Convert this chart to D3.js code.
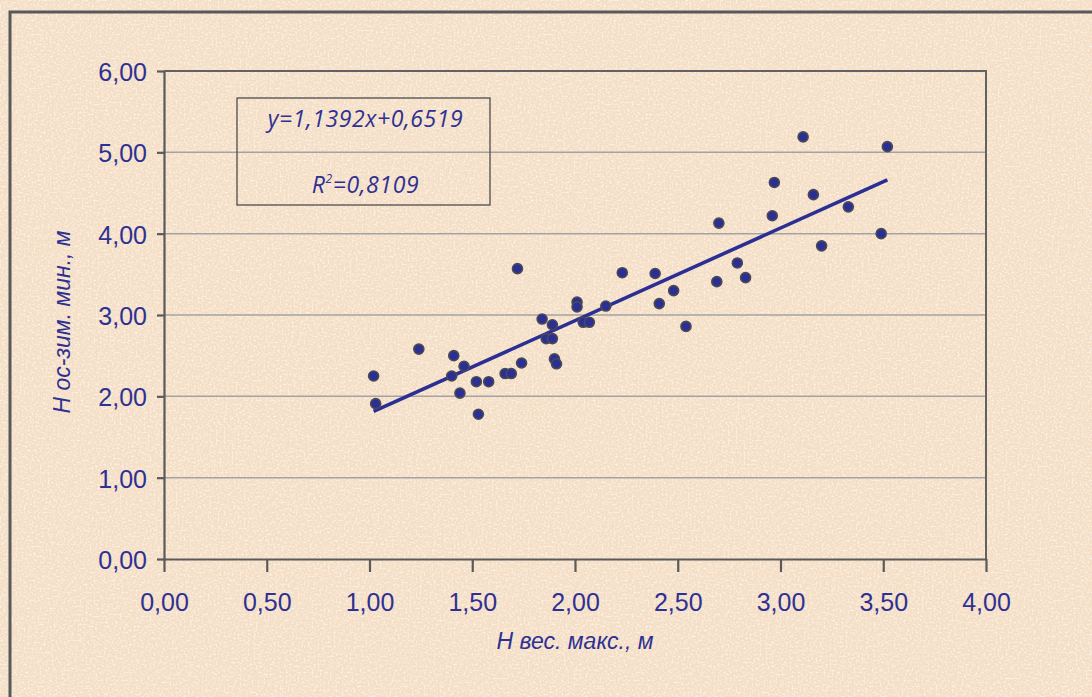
<!DOCTYPE html>
<html>
<head>
<meta charset="utf-8">
<script src="https://cdn.jsdelivr.net/npm/d3@7"></script>
<style>
  html, body { margin: 0; padding: 0; background: #f5e1ca; }
  svg { display: block; }
</style>
</head>
<body>
<svg id="chart" width="1092" height="697"></svg>
<script>
// ---- data ----
const xValues = [1.02, 1.03, 1.24, 1.41, 1.40, 1.46, 1.44, 1.53, 1.52, 1.58,
                 1.66, 1.69, 1.74, 1.72, 1.84, 1.89, 1.86, 1.89, 1.90, 1.91,
                 2.01, 2.01, 2.04, 2.07, 2.15, 2.23, 2.39, 2.41, 2.48, 2.54,
                 2.69, 2.70, 2.79, 2.83, 2.96, 2.97, 3.11, 3.16, 3.20, 3.33,
                 3.49, 3.52];
const yValues = [2.25, 1.91, 2.58, 2.50, 2.25, 2.37, 2.04, 1.78, 2.18, 2.18,
                 2.28, 2.28, 2.41, 3.57, 2.95, 2.88, 2.71, 2.71, 2.46, 2.40,
                 3.16, 3.10, 2.91, 2.91, 3.11, 3.52, 3.51, 3.14, 3.30, 2.86,
                 3.41, 4.13, 3.64, 3.46, 4.22, 4.63, 5.19, 4.48, 3.85, 4.33,
                 4.00, 5.07];
const xTicks = [0, 0.5, 1, 1.5, 2, 2.5, 3, 3.5, 4];
const yTicks = [0, 1, 2, 3, 4, 5, 6];
const trendSlope = 1.1392;
const trendIntercept = 0.6519;
const equationLines = ["y=1,1392x+0,6519", "R", "=0,8109"];
const xTitle = "H вес. макс., м";
const yTitle = "H ос-зим. мин., м";

// ---- layout ----
const W = 1092, H = 697;
const plot = { left: 164, right: 986, top: 71, bottom: 559 };
const textColor = "#2e3192";
const markColor = "#2b2f94";

const svg = d3.select("#chart");
const defs = svg.append("defs");

// paper texture: tan speckles and light speckles over a beige base
const f = defs.append("filter").attr("id", "paper").attr("x", 0).attr("y", 0)
  .attr("width", "100%").attr("height", "100%");
f.append("feTurbulence").attr("type", "fractalNoise").attr("baseFrequency", "0.6")
  .attr("numOctaves", 3).attr("seed", 11).attr("result", "noise");
f.append("feColorMatrix").attr("in", "noise").attr("type", "matrix")
  .attr("values", "0 0 0 0 0.92  0 0 0 0 0.80  0 0 0 0 0.64  2.4 0 0 0 -1.05")
  .attr("result", "tan");
f.append("feComposite").attr("in", "tan").attr("in2", "SourceGraphic").attr("operator", "in");

const f2 = defs.append("filter").attr("id", "paper2").attr("x", 0).attr("y", 0)
  .attr("width", "100%").attr("height", "100%");
f2.append("feTurbulence").attr("type", "fractalNoise").attr("baseFrequency", "0.5")
  .attr("numOctaves", 2).attr("seed", 3).attr("result", "noise");
f2.append("feColorMatrix").attr("in", "noise").attr("type", "matrix")
  .attr("values", "0 0 0 0 1  0 0 0 0 0.95  0 0 0 0 0.93  0 2.6 0 0 -1.15")
  .attr("result", "light");
f2.append("feComposite").attr("in", "light").attr("in2", "SourceGraphic").attr("operator", "in");

svg.append("rect").attr("width", W).attr("height", H).attr("fill", "#f4ddc3");
svg.append("rect").attr("width", W).attr("height", H).attr("fill", "#000")
  .attr("filter", "url(#paper)").attr("opacity", 0.6);
svg.append("rect").attr("width", W).attr("height", H).attr("fill", "#000")
  .attr("filter", "url(#paper2)").attr("opacity", 0.8);

// outer frame
svg.append("rect").attr("x", 10).attr("y", 12).attr("width", W + 20).attr("height", H + 20)
  .attr("fill", "none").attr("stroke", "#58595b").attr("stroke-width", 3);

const fmt = d3.formatLocale({ decimal: ",", thousands: " ", grouping: [3], currency: ["", ""] }).format(".2f");

const x = d3.scaleLinear().domain([0, 4]).range([plot.left, plot.right]);
const y = d3.scaleLinear().domain([0, 6]).range([plot.bottom, plot.top]);

// gridlines
svg.append("g").selectAll("line").data(yTicks.filter(d => d > 0 && d < 6)).join("line")
  .attr("x1", plot.left).attr("x2", plot.right)
  .attr("y1", d => y(d)).attr("y2", d => y(d))
  .attr("stroke", "#a3a3a3").attr("stroke-width", 1.5);

// plot border (top & right)
svg.append("path")
  .attr("d", `M${plot.left},${plot.top}H${plot.right}V${plot.bottom}`)
  .attr("fill", "none").attr("stroke", "#626262").attr("stroke-width", 2);

// axes
const xAxis = svg.append("g").attr("transform", `translate(0,${plot.bottom})`)
  .call(d3.axisBottom(x).tickValues(xTicks).tickFormat(fmt).tickSize(13).tickPadding(22).tickSizeOuter(0));
const yAxis = svg.append("g").attr("transform", `translate(${plot.left},0)`)
  .call(d3.axisLeft(y).tickValues(yTicks).tickFormat(fmt).tickSize(7).tickPadding(10).tickSizeOuter(0));

[xAxis, yAxis].forEach(g => {
  g.select(".domain").attr("stroke", "#5a5a5a").attr("stroke-width", 2.2);
  g.selectAll(".tick line").attr("stroke", "#5a5a5a").attr("stroke-width", 2.2);
  g.selectAll(".tick text").attr("fill", textColor)
    .style("font-family", "'Liberation Sans', Arial, sans-serif").style("font-size", "25px");
});
xAxis.selectAll(".tick text").attr("dy", "0.71em").attr("y", 34);
yAxis.selectAll(".tick text").attr("dy", "0.38em");

// axis titles
svg.append("text").attr("x", (plot.left + plot.right) / 2).attr("y", 649)
  .attr("text-anchor", "middle").attr("fill", textColor)
  .style("font-family", "'Liberation Sans', Arial, sans-serif").style("font-size", "23px")
  .style("font-style", "italic").text(xTitle);
svg.append("text").attr("transform", `translate(70,${(plot.top + plot.bottom) / 2 + 7}) rotate(-90)`)
  .attr("text-anchor", "middle").attr("fill", textColor)
  .style("font-family", "'Liberation Sans', Arial, sans-serif").style("font-size", "23px")
  .style("font-style", "italic").text(yTitle);

// trend line
const xmin = d3.min(xValues), xmax = d3.max(xValues);
svg.append("line")
  .attr("x1", x(xmin)).attr("y1", y(trendSlope * xmin + trendIntercept))
  .attr("x2", x(xmax)).attr("y2", y(trendSlope * xmax + trendIntercept))
  .attr("stroke", markColor).attr("stroke-width", 3.6);

// points
svg.append("g").selectAll("circle").data(xValues.map((v, i) => [v, yValues[i]])).join("circle")
  .attr("cx", d => x(d[0])).attr("cy", d => y(d[1])).attr("r", 5)
  .attr("fill", markColor).attr("stroke", "#4a4a55").attr("stroke-width", 1.6);

// equation box
const box = { x: 237, y: 98, w: 253, h: 107 };
svg.append("rect").attr("x", box.x).attr("y", box.y).attr("width", box.w).attr("height", box.h)
  .attr("fill", "none").attr("stroke", "#4d4d4d").attr("stroke-width", 1.3);
const eqStyle = s => s.attr("fill", textColor)
  .style("font-family", "'Open Sans', 'Noto Sans', sans-serif").style("font-style", "italic")
  .style("font-size", "23px");
svg.append("text").attr("x", box.x + box.w / 2 + 2).attr("y", 127).attr("text-anchor", "middle")
  .style("letter-spacing", "0.6px").call(eqStyle).text(equationLines[0]);
const r2 = svg.append("text").attr("x", box.x + box.w / 2 + 2).attr("y", 193).attr("text-anchor", "middle")
  .style("letter-spacing", "0.6px").call(eqStyle);
r2.append("tspan").text(equationLines[1]);
r2.append("tspan").attr("dy", -10).style("font-size", "12px").text("2");
r2.append("tspan").attr("dy", 10).text(equationLines[2]);
</script>
</body>
</html>
